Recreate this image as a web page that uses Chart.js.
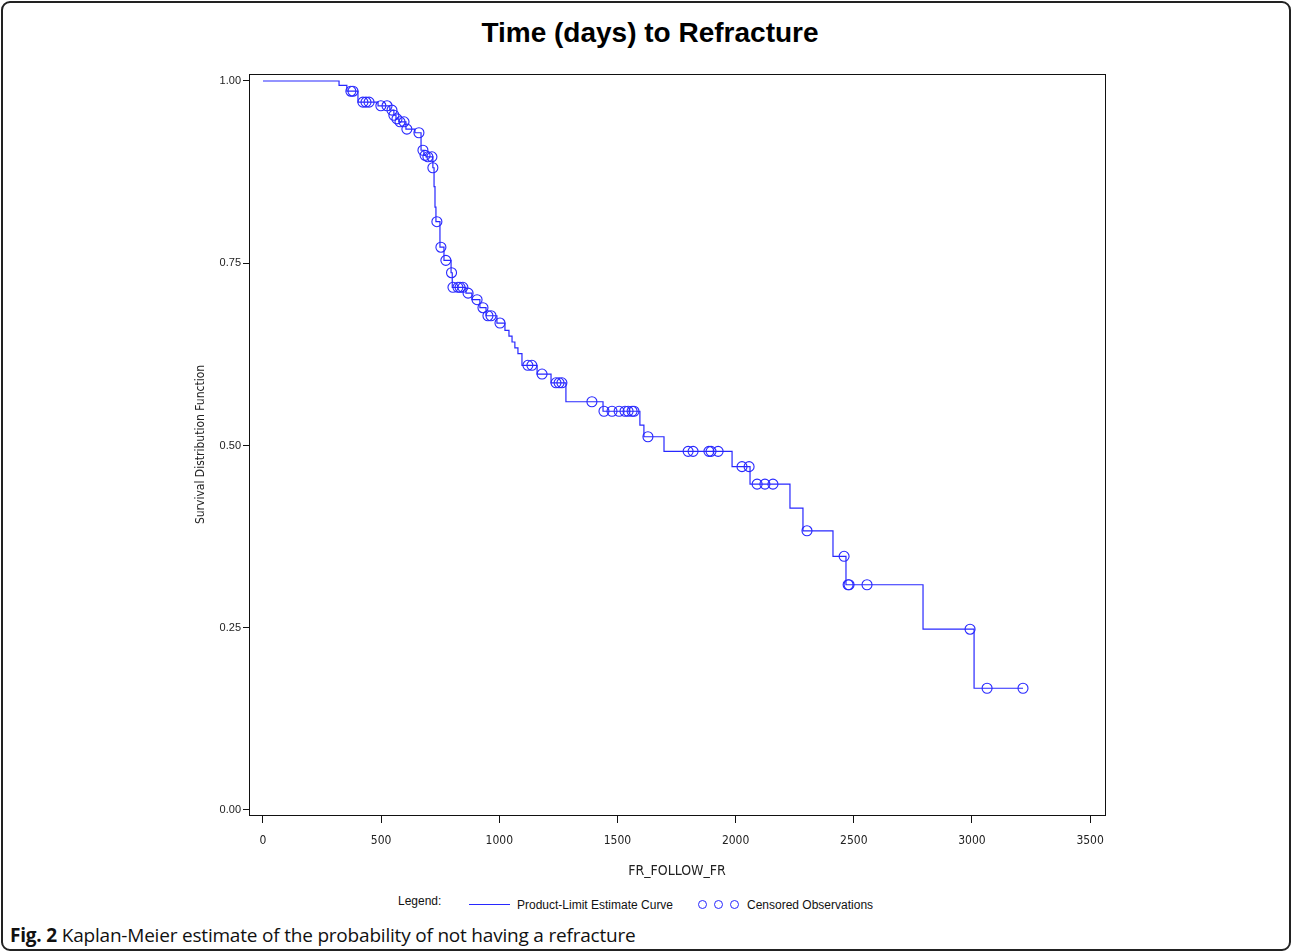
<!DOCTYPE html>
<html>
<head>
<meta charset="utf-8">
<script src="https://cdn.jsdelivr.net/npm/chart.js@4/dist/chart.umd.min.js"></script>
<style>
  body { margin: 0; background: #fff; font-family: "Liberation Sans", Arial, sans-serif; }
  #frame { position: absolute; left: 1px; top: 1px; width: 1286px; height: 946px; border: 2px solid #222; border-radius: 9px; }
  #title { position: absolute; left: 4px; top: 17px; width: 1292px; text-align: center; font: bold 28px "Liberation Sans", Arial, sans-serif; color: #000; }
  #chart { position: absolute; left: 0; top: 0; }
  .lg { position: absolute; font-size: 12px; line-height: 14px; color: #111; white-space: nowrap; }
  .dot { position: absolute; width: 9px; height: 9px; border: 1.3px solid #2828ff; border-radius: 50%; box-sizing: border-box; }
  #caption { position: absolute; left: 10px; top: 922px; font: 19px "Open Sans", sans-serif; color: #111; white-space: nowrap; letter-spacing: -0.2px; }
</style>
</head>
<body>
<div id="frame"></div>
<div id="title">Time (days) to Refracture</div>
<canvas id="chart" width="1292" height="884"></canvas>

<span class="lg" style="left:398px; top:894px;">Legend:</span>
<div style="position:absolute; left:469px; top:904px; width:41px; border-top:1px solid #2828ff;"></div>
<span class="lg" style="left:517px; top:898px;">Product-Limit Estimate Curve</span>
<div class="dot" style="left:698px; top:900px;"></div>
<div class="dot" style="left:714px; top:900px;"></div>
<div class="dot" style="left:730px; top:900px;"></div>
<span class="lg" style="left:747px; top:898px;">Censored Observations</span>

<div id="caption"><b>Fig. 2</b> Kaplan-Meier estimate of the probability of not having a refracture</div>

<script>
// product-limit estimate: day of each drop and survival after it
const stepDays = [0, 322, 355, 402, 487, 537, 554, 563, 575, 605,
  643, 669, 681, 690, 719, 724, 728, 732, 749, 766,
  796, 801, 859, 884, 918, 944, 990, 1024, 1041, 1054,
  1066, 1079, 1096, 1160, 1219, 1282, 1439, 1595, 1612, 1697,
  1985, 2061, 2230, 2285, 2412, 2467, 2793, 3009, 3216];
const stepSurv = [1.000, 0.994, 0.986, 0.971, 0.966, 0.960, 0.953, 0.948, 0.944, 0.934,
  0.929, 0.905, 0.898, 0.896, 0.881, 0.855, 0.827, 0.807, 0.772, 0.754,
  0.737, 0.717, 0.709, 0.700, 0.689, 0.678, 0.668, 0.658, 0.650, 0.642,
  0.634, 0.626, 0.610, 0.598, 0.586, 0.560, 0.547, 0.528, 0.512, 0.492,
  0.471, 0.447, 0.414, 0.383, 0.348, 0.309, 0.248, 0.167, 0.167];

// censored observations
const censorDays = [372, 381, 423, 436, 449, 499, 525, 546, 554, 567,
  580, 597, 609, 660, 677, 686, 698, 715, 719, 736,
  753, 774, 798, 804, 825, 834, 846, 868, 906, 931,
  952, 965, 1003, 1121, 1138, 1181, 1240, 1253, 1265, 1392,
  1443, 1477, 1507, 1532, 1545, 1562, 1570, 1629, 1799, 1820,
  1887, 1896, 1926, 2027, 2057, 2091, 2124, 2158, 2302, 2459,
  2476, 2480, 2556, 2992, 3064, 3216];
const censorSurv = [0.986, 0.986, 0.971, 0.971, 0.971, 0.966, 0.966, 0.960, 0.953, 0.948,
  0.944, 0.944, 0.934, 0.929, 0.905, 0.898, 0.896, 0.896, 0.881, 0.807,
  0.772, 0.754, 0.737, 0.717, 0.717, 0.717, 0.717, 0.709, 0.700, 0.689,
  0.678, 0.678, 0.668, 0.610, 0.610, 0.598, 0.586, 0.586, 0.586, 0.560,
  0.547, 0.547, 0.547, 0.547, 0.547, 0.547, 0.547, 0.512, 0.492, 0.492,
  0.492, 0.492, 0.492, 0.471, 0.471, 0.447, 0.447, 0.447, 0.383, 0.348,
  0.309, 0.309, 0.309, 0.248, 0.167, 0.167];

const xTicks = [0, 500, 1000, 1500, 2000, 2500, 3000, 3500];
const xTickLabels = ["0", "500", "1000", "1500", "2000", "2500", "3000", "3500"];
const yTicks = [0, 0.25, 0.5, 0.75, 1];
const yTickLabels = ["0.00", "0.25", "0.50", "0.75", "1.00"];

const blue = "#2828ff";
const narrow = "'Liberation Sans Narrow', 'DejaVu Sans Condensed', 'Liberation Sans', sans-serif";

// box around the plot area
const boxPlugin = {
  id: "box",
  afterDraw(chart) {
    const a = chart.chartArea;
    const c = chart.ctx;
    c.save();
    c.strokeStyle = "#111";
    c.lineWidth = 1;
    c.strokeRect(Math.round(a.left) + 0.5, Math.round(a.top) + 0.5, Math.round(a.right - a.left), Math.round(a.bottom - a.top));
    c.restore();
  }
};

new Chart(document.getElementById("chart"), {
  type: "scatter",
  data: {
    datasets: [
      {
        label: "Product-Limit Estimate Curve",
        data: stepDays.map((d, i) => ({ x: d, y: stepSurv[i] })),
        showLine: true,
        stepped: "before",
        borderColor: blue,
        borderWidth: 1.2,
        pointRadius: 0,
        fill: false
      },
      {
        label: "Censored Observations",
        data: censorDays.map((d, i) => ({ x: d, y: censorSurv[i] })),
        showLine: false,
        pointStyle: "circle",
        pointRadius: 5,
        borderColor: blue,
        borderWidth: 1.1,
        backgroundColor: "rgba(0,0,0,0)"
      }
    ]
  },
  options: {
    responsive: false,
    animation: false,
    layout: { padding: { left: 190, top: 74, right: 187, bottom: 0 } },
    plugins: { legend: { display: false }, tooltip: { enabled: false } },
    scales: {
      x: {
        type: "linear",
        min: -59,
        max: 3563,
        afterBuildTicks: (s) => { s.ticks = xTicks.map(v => ({ value: v })); },
        afterFit: (s) => { s.height = 69; },
        ticks: {
          autoSkip: false,
          maxRotation: 0,
          padding: 11,
          color: "#222",
          font: { family: narrow, size: 12 },
          callback: (v) => xTickLabels[xTicks.indexOf(v)]
        },
        grid: { drawOnChartArea: false, drawTicks: true, tickLength: 8, color: "#111" },
        border: { display: true, color: "#111" },
        title: { display: true, text: "FR_FOLLOW_FR", color: "#222", font: { family: narrow, size: 14 } }
      },
      y: {
        type: "linear",
        min: -0.00686,
        max: 1.0096,
        afterBuildTicks: (s) => { s.ticks = yTicks.map(v => ({ value: v })); },
        afterFit: (s) => { s.width = 59; },
        ticks: {
          autoSkip: false,
          padding: 2,
          color: "#222",
          font: { family: "'Liberation Sans', Arial, sans-serif", size: 11 },
          callback: (v) => yTickLabels[yTicks.indexOf(v)]
        },
        grid: { drawOnChartArea: false, drawTicks: true, tickLength: 6, color: "#111" },
        border: { display: true, color: "#111" },
        title: { display: true, text: "Survival Distribution Function", color: "#222", font: { family: narrow, size: 12 } }
      }
    }
  },
  plugins: [boxPlugin]
});
</script>
</body>
</html>
